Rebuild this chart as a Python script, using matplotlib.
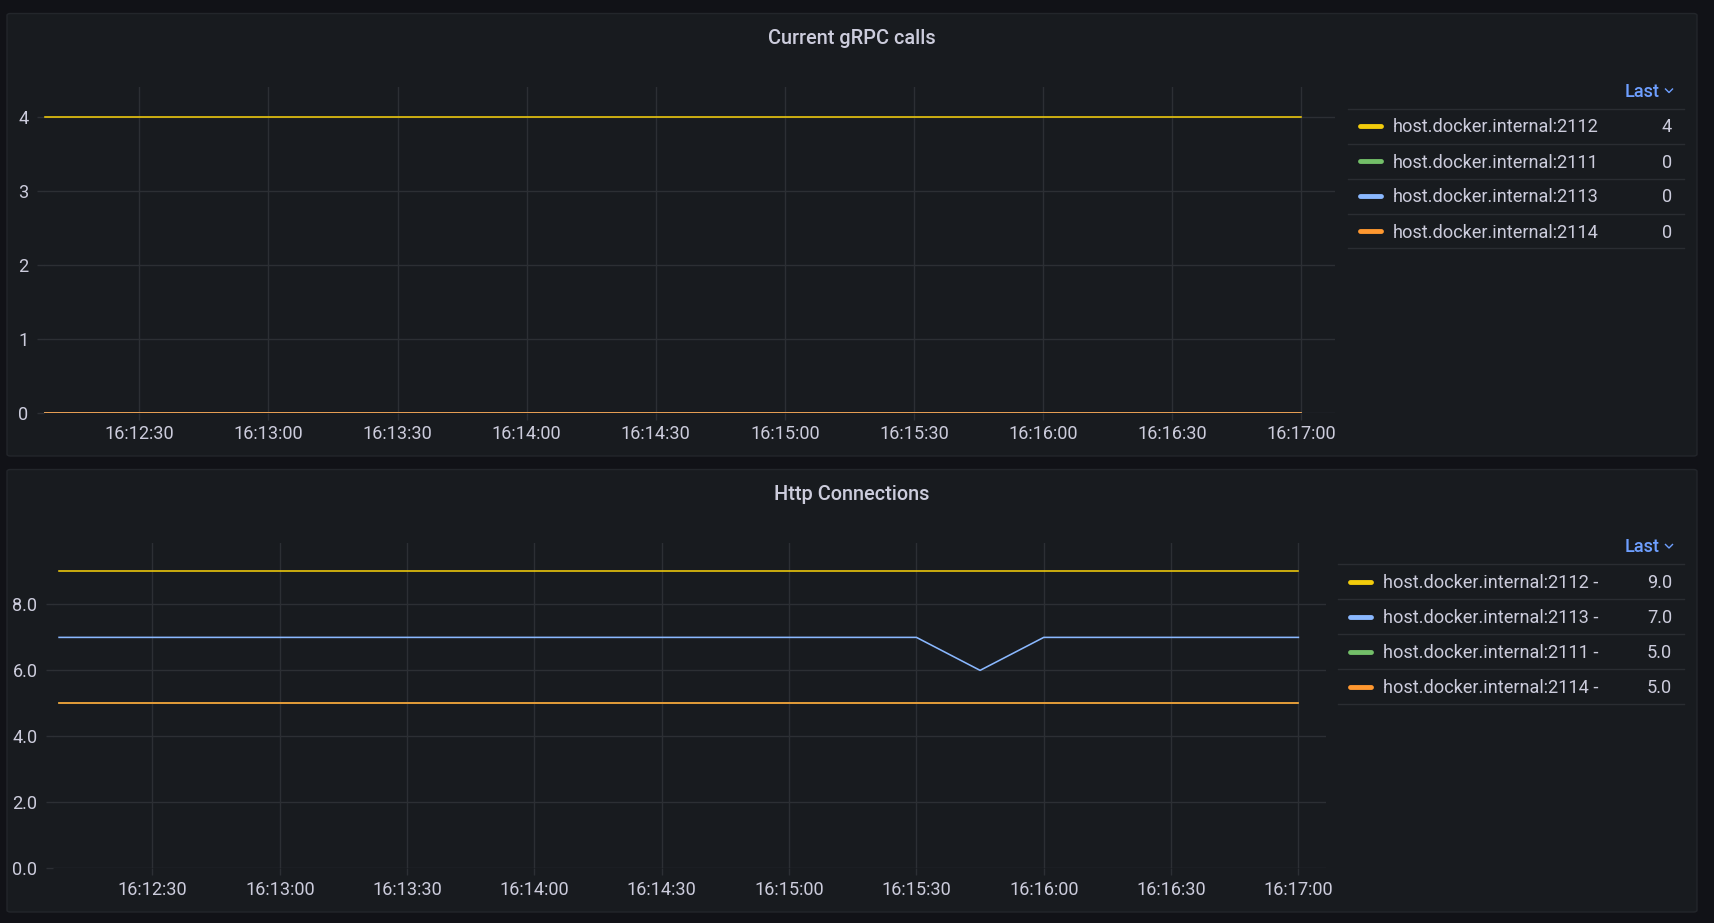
import pandas as pd
import matplotlib
matplotlib.use("Agg")
import matplotlib.pyplot as plt
import matplotlib.dates as mdates
from matplotlib.patches import FancyBboxPatch
from matplotlib.lines import Line2D

plt.rcParams['font.family'] = ['Roboto', 'DejaVu Sans']

# data
grpc_times = ["16:12:08", "16:17:00"]
grpc_series = {
    "host.docker.internal:2112": [4, 4],
    "host.docker.internal:2111": [0, 0],
    "host.docker.internal:2113": [0, 0],
    "host.docker.internal:2114": [0, 0],
}
grpc_last = ["4", "0", "0", "0"]

http_times = ["16:12:08", "16:15:30", "16:15:45", "16:16:00", "16:17:00"]
http_series = {
    "host.docker.internal:2112 - ": [9, 9, 9, 9, 9],
    "host.docker.internal:2113 - ": [7, 7, 6, 7, 7],
    "host.docker.internal:2111 - ": [5, 5, 5, 5, 5],
    "host.docker.internal:2114 - ": [5, 5, 5, 5, 5],
}
http_last = ["9.0", "7.0", "5.0", "5.0"]

colors = {"2112": "#F2CC0C", "2111": "#73BF69", "2113": "#8AB8FF", "2114": "#FF9830"}

BG = "#111217"
PANEL = "#181b1f"
TEXT = "#ccccdc"
GRID = "#2c2f34"
SEP = "#2a2d32"
FS = 13.1

W, H = 1714, 923
fig = plt.figure(figsize=(W / 100, H / 100), dpi=100, facecolor=BG)


def fx(x):
    return x / W


def fy(y):
    return 1 - y / H


def to_dt(ts):
    return pd.to_datetime(["2024-01-01 " + t for t in ts])


def panel(top, bottom):
    p = FancyBboxPatch((fx(7), fy(bottom)), fx(1697) - fx(7), fy(top) - fy(bottom),
                       boxstyle="round,pad=0,rounding_size=0.002",
                       transform=fig.transFigure, facecolor=PANEL,
                       edgecolor="#23262b", linewidth=1, zorder=-1)
    fig.patches.append(p)


def chart(left, right, top, bottom, times, series, ymax, fmt, xl):
    ax = fig.add_axes([fx(left), fy(bottom), fx(right) - fx(left), fy(top) - fy(bottom)])
    ax.set_facecolor("none")
    t = to_dt(times)
    for name, vals in series.items():
        key = name.split(":")[1][:4]
        ax.plot(t, vals, color=colors[key], lw=1.15, zorder=3)
    ax.set_ylim(0, ymax)
    ax.set_xlim(pd.to_datetime("2024-01-01 " + xl[0]), pd.to_datetime("2024-01-01 " + xl[1]))
    ax.xaxis.set_major_locator(mdates.SecondLocator(bysecond=[0, 30]))
    ax.xaxis.set_major_formatter(mdates.DateFormatter("%H:%M:%S"))
    ax.yaxis.set_major_formatter(plt.FormatStrFormatter(fmt))
    for s in ax.spines.values():
        s.set_visible(False)
    ax.grid(True, color=GRID, lw=1, alpha=1)
    ax.tick_params(colors=TEXT, labelsize=FS, length=5, width=1)
    ax.tick_params(axis='x', color=GRID, pad=4)
    ax.tick_params(axis='y', color=GRID, pad=6)
    return ax


def legend(head_y, rows, last, x_sep0, x_sw, x_txt):
    fig.text(fx(1660), fy(head_y + 1), "Last", color="#6e9fff", fontsize=FS,
             fontweight=500, ha="right", va="center")
    fig.add_artist(Line2D([fx(1665.5), fx(1669), fx(1672.5)],
                          [fy(head_y - 2), fy(head_y + 1.5), fy(head_y - 2)],
                          color="#6e9fff", lw=1))
    sep = head_y + 17.5
    fig.add_artist(Line2D([fx(x_sep0), fx(1684)], [fy(sep), fy(sep)], color=SEP, lw=1))
    for i, (name, val) in enumerate(zip(rows, last)):
        cy = sep + 17.5 + 35 * i
        key = name.split(":")[1][:4]
        fig.add_artist(Line2D([fx(x_sw), fx(x_sw + 21)], [fy(cy), fy(cy)],
                              color=colors[key], lw=3.5, solid_capstyle="round"))
        fig.text(fx(x_txt), fy(cy + 1.5), name, color=TEXT, fontsize=FS, ha="left", va="center")
        fig.text(fx(1672), fy(cy + 1.5), val, color=TEXT, fontsize=FS, ha="right", va="center")
        fig.add_artist(Line2D([fx(x_sep0), fx(1684)], [fy(cy + 17.5), fy(cy + 17.5)],
                              color=SEP, lw=1))


panel(13.5, 456)
panel(469.5, 912)

fig.text(0.5 * (fx(7) + fx(1697)), fy(39), "Current gRPC calls", color=TEXT,
         fontsize=14.3, fontweight=500, ha="center", va="center")
fig.text(0.5 * (fx(7) + fx(1697)), fy(495), "Http Connections", color=TEXT,
         fontsize=14.3, fontweight=500, ha="center", va="center")

ax1 = chart(43.7, 1335, 86.7, 412.7, grpc_times, grpc_series, 4.405, "%d",
            ("16:12:07.8", "16:17:07.8"))
ax1.set_yticks([0, 1, 2, 3, 4])
ax2 = chart(52.7, 1326, 542.7, 868.3, http_times, http_series, 9.87, "%.1f",
            ("16:12:06.5", "16:17:06.5"))
ax2.set_yticks([0, 2, 4, 6, 8])

legend(91, list(grpc_series.keys()), grpc_last, 1348, 1360, 1393)
legend(546.5, list(http_series.keys()), http_last, 1338, 1350, 1383)

fig.savefig("out.png", dpi=100, facecolor=BG)
